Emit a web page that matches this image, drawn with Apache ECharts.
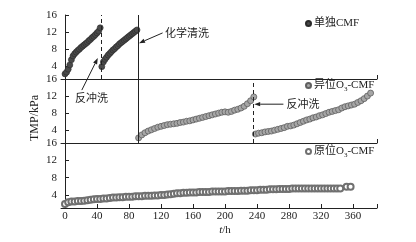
<!DOCTYPE html>
<html>
<head>
<meta charset="utf-8">
<script src="https://cdn.jsdelivr.net/npm/echarts@6/dist/echarts.min.js"></script>
<style>
html, body { margin: 0; padding: 0; background: #fff; }
#chart { width: 416px; height: 242px; }
</style>
</head>
<body>
<div id="chart"></div>
<script>
//== names and ticks
var seriesNames = ['单独CMF', '异位O3-CMF', '原位O3-CMF'];
var xTicks = [0, 40, 80, 120, 160, 200, 240, 280, 320, 360];
var yTicks = [4, 8, 12, 16];

//== 单独CMF, [t/h, TMP/kPa], before and after the backwash
var cmfRun1 = [[0, 2.2], [2, 2.6], [4, 3.3], [6, 4.3], [8, 5.5], [10, 6.4], [12, 6.9], [14, 7.3],
    [16, 7.7], [18, 8.0], [20, 8.4], [22, 8.7], [24, 9.0], [26, 9.3], [28, 9.6], [30, 10.0],
    [32, 10.3], [34, 10.7], [36, 11.0], [38, 11.4], [40, 11.8], [42, 12.2], [44, 13.0]];
var cmfRun2 = [[46, 3.9], [48, 5.0], [50, 5.6], [52, 6.1], [54, 6.6], [56, 7.0], [58, 7.4], [60, 7.8],
    [62, 8.1], [64, 8.5], [66, 8.8], [68, 9.2], [70, 9.5], [72, 9.8], [74, 10.1], [76, 10.4],
    [78, 10.7], [80, 11.0], [82, 11.3], [84, 11.6], [86, 11.9], [88, 12.2], [90, 12.5]];

//== 异位O3-CMF, after the chemical cleaning and after the second backwash
var exRun1 = [[92, 2.2], [96, 2.9], [100, 3.4], [104, 3.8], [108, 4.1], [112, 4.4], [116, 4.7],
    [120, 4.9], [124, 5.1], [128, 5.3], [132, 5.4], [136, 5.5], [140, 5.6], [144, 5.8], [148, 5.9],
    [152, 6.1], [156, 6.2], [160, 6.4], [164, 6.6], [168, 6.8], [172, 7.0], [176, 7.2], [180, 7.4],
    [184, 7.6], [188, 7.8], [192, 8.0], [196, 8.2], [200, 8.3], [204, 8.2], [208, 8.4], [212, 8.7],
    [216, 8.9], [220, 9.2], [224, 9.6], [228, 10.2], [232, 10.9], [236, 11.8]];
var exRun2 = [[238, 3.1], [242, 3.3], [246, 3.4], [250, 3.6], [254, 3.7], [258, 3.8], [262, 4.0],
    [266, 4.2], [270, 4.4], [274, 4.6], [278, 4.9], [282, 5.0], [286, 5.2], [290, 5.5], [294, 5.8],
    [298, 6.1], [302, 6.4], [306, 6.6], [310, 6.9], [314, 7.1], [318, 7.4], [322, 7.6], [326, 7.9],
    [330, 8.2], [334, 8.4], [338, 8.6], [342, 8.8], [346, 9.2], [350, 9.5], [354, 9.7], [358, 9.9],
    [362, 10.1], [366, 10.5], [370, 10.9], [374, 11.4], [378, 12.0], [382, 12.7]];

//== 原位O3-CMF
var inRun = [[0, 1.9], [4, 2.3], [8, 2.5], [12, 2.5], [16, 2.6], [20, 2.6], [24, 2.7], [28, 2.8],
    [32, 2.9], [36, 3.0], [40, 3.1], [44, 3.1], [48, 3.2], [52, 3.2], [56, 3.3], [60, 3.4], [64, 3.4],
    [68, 3.5], [72, 3.5], [76, 3.6], [80, 3.6], [84, 3.6], [88, 3.7], [92, 3.7], [96, 3.7], [100, 3.8],
    [104, 3.8], [108, 3.8], [112, 3.9], [116, 3.9], [120, 4.0], [124, 4.0], [128, 4.1], [132, 4.2],
    [136, 4.3], [140, 4.4], [144, 4.4], [148, 4.5], [152, 4.5], [156, 4.6], [160, 4.6], [164, 4.6],
    [168, 4.7], [172, 4.7], [176, 4.7], [180, 4.7], [184, 4.8], [188, 4.8], [192, 4.8], [196, 4.8],
    [200, 4.8], [204, 4.9], [208, 4.9], [212, 4.9], [216, 4.9], [220, 5.0], [224, 5.0], [228, 5.0],
    [232, 5.1], [236, 5.1], [240, 5.1], [244, 5.2], [248, 5.2], [252, 5.2], [256, 5.3], [260, 5.3],
    [264, 5.3], [268, 5.4], [272, 5.4], [276, 5.4], [280, 5.4], [284, 5.5], [288, 5.5], [292, 5.5],
    [296, 5.5], [300, 5.5], [304, 5.5], [308, 5.5], [312, 5.5], [316, 5.5], [320, 5.5], [324, 5.5],
    [328, 5.5], [332, 5.5], [336, 5.5], [340, 5.5], [344, 5.5], [352, 5.9], [357, 5.9]];

//== events on the time axis
var backwash1 = 45;
var chemClean = 91;
var backwash2 = 235;

//== annotations: [t, TMP, panel]
var notes = [
    {text: '反冲洗', at: [33, 11.5, 1], tail: [21, 13.4, 1], head: [41, 5.9, 0], align: 'center'},
    {text: '化学清洗', at: [125, 11.8, 0], tail: [122, 11.8, 0], head: [92.5, 9.4, 0], align: 'left'},
    {text: '反冲洗', at: [277, 10.1, 1], tail: [273, 10.1, 1], head: [236.5, 10.1, 1], align: 'left'}
];

var serif = "'Liberation Serif', 'Noto Sans CJK SC'";
var cjk = "'Noto Sans CJK SC'";
var ink = '#222';

var chart = echarts.init(document.getElementById('chart'));

var grids = [0, 1, 2].map(function (i) {
    return {left: 61, width: 316, top: [15, 79, 143][i], height: i === 2 ? 65 : 64};
});

var xAxes = [0, 1, 2].map(function (i) {
    var last = i === 2;
    return {
        type: 'value', gridIndex: i, min: -5, max: 390,
        axisLine: {show: true, lineStyle: {color: ink, width: 1}},
        axisTick: {show: true, inside: true, length: 4, lineStyle: {color: ink},
            customValues: last ? xTicks.concat([390]) : [390]},
        axisLabel: {show: last, customValues: xTicks, margin: 3, color: ink,
            fontFamily: serif, fontSize: 11},
        splitLine: {show: false},
        name: last ? '{i|t}/h' : '',
        nameLocation: 'middle',
        nameGap: 17,
        nameTextStyle: {color: ink, fontFamily: serif, fontSize: 11, padding: [0, 0, 0, 12],
            rich: {i: {fontStyle: 'italic', fontFamily: serif, fontSize: 11, color: ink}}}
    };
});

var yAxes = [0, 1, 2].map(function (i) {
    return {
        type: 'value', gridIndex: i, min: 1, max: 16,
        axisLine: {show: true, lineStyle: {color: ink, width: 1}},
        axisTick: {show: true, inside: true, length: 4, lineStyle: {color: ink}, customValues: yTicks},
        axisLabel: {customValues: yTicks, margin: 4, color: ink, fontFamily: serif, fontSize: 11},
        splitLine: {show: false}
    };
});

function eventLine(value, dashed) {
    return {xAxis: value, lineStyle: {type: dashed ? [4, 3] : 'solid', color: ink, width: 1}};
}

function legendLabel(name) {
    var parts = name.split('O3');
    if (parts.length === 1) {
        return '{n|' + name + '}';
    }
    return '{n|' + parts[0] + 'O}{s|3}{n|' + parts[1] + '}';
}

function makeLegend(name, top) {
    return {
        data: [name], left: 305, top: top, padding: 0,
        itemWidth: 5, itemHeight: 5, formatter: legendLabel,
        textStyle: {
            color: ink, padding: [0, 0, 0, -2],
            rich: {
                n: {fontFamily: serif, fontSize: 11, lineHeight: 14, color: ink},
                s: {fontFamily: serif, fontSize: 7, lineHeight: 8, verticalAlign: 'bottom', color: ink}
            }
        }
    };
}

chart.setOption({
    animation: false,
    backgroundColor: '#fff',
    grid: grids,
    xAxis: xAxes,
    yAxis: yAxes,
    legend: [
        makeLegend(seriesNames[0], 18),
        makeLegend(seriesNames[1], 80),
        makeLegend(seriesNames[2], 146)
    ],
    series: [
        {
            name: seriesNames[0], type: 'scatter', xAxisIndex: 0, yAxisIndex: 0,
            data: cmfRun1.concat(cmfRun2), symbol: 'circle', symbolSize: 6,
            itemStyle: {color: '#4a4a4a', borderColor: '#2a2a2a', borderWidth: 0.6, opacity: 1},
            markLine: {silent: true, symbol: 'none', label: {show: false},
                data: [eventLine(backwash1, true), eventLine(chemClean, false)]}
        },
        {
            name: seriesNames[1], type: 'scatter', xAxisIndex: 1, yAxisIndex: 1,
            data: exRun1.concat(exRun2), symbol: 'circle', symbolSize: 6,
            itemStyle: {color: '#a6a6a6', borderColor: '#606060', borderWidth: 0.8, opacity: 1},
            markLine: {silent: true, symbol: 'none', label: {show: false},
                data: [eventLine(chemClean, false), eventLine(backwash2, true)]}
        },
        {
            name: seriesNames[2], type: 'scatter', xAxisIndex: 2, yAxisIndex: 2,
            data: inRun, symbol: 'emptyCircle', symbolSize: 6,
            itemStyle: {color: '#707070', borderWidth: 0.8, opacity: 1}
        }
    ]
});

//== annotations, placed through the panels' own axes
function px(p) {
    return chart.convertToPixel({gridIndex: p[2]}, [p[0], p[1]]);
}

var elements = [];
notes.forEach(function (note) {
    var t = px(note.tail), h = px(note.head), a = px(note.at);
    var dx = h[0] - t[0], dy = h[1] - t[1];
    var len = Math.sqrt(dx * dx + dy * dy);
    var ux = dx / len, uy = dy / len;
    var back = [h[0] - ux * 6, h[1] - uy * 6];
    elements.push({type: 'line', shape: {x1: t[0], y1: t[1], x2: back[0], y2: back[1]},
        style: {stroke: ink, lineWidth: 1}});
    elements.push({type: 'polygon', shape: {points: [h,
            [back[0] - uy * 2.2, back[1] + ux * 2.2],
            [back[0] + uy * 2.2, back[1] - ux * 2.2]]},
        style: {fill: ink}});
    elements.push({type: 'text', x: a[0], y: a[1],
        style: {text: note.text, font: '11px ' + cjk, fill: ink,
            align: note.align, textAlign: note.align, verticalAlign: 'middle', textVerticalAlign: 'middle'}});
});

elements.push({type: 'text', x: 35, y: 118, rotation: Math.PI / 2,
    style: {text: 'TMP/kPa', font: '12px ' + serif, fill: ink,
        align: 'center', textAlign: 'center', verticalAlign: 'middle', textVerticalAlign: 'middle'}});

chart.setOption({graphic: {elements: elements}});
</script>
</body>
</html>
